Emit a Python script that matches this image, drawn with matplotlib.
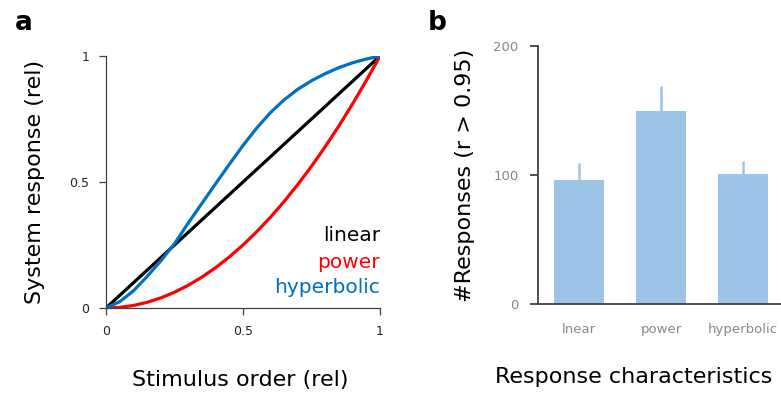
import matplotlib
matplotlib.use("Agg")
import matplotlib.pyplot as plt

# ---- Panel a data ----
stim_x = [0.0, 0.05, 0.10, 0.15, 0.20, 0.25, 0.30, 0.35, 0.40, 0.45, 0.50,
          0.55, 0.60, 0.65, 0.70, 0.75, 0.80, 0.85, 0.90, 0.95, 1.0]
linear_x = [0.0, 1.0]
linear_y = [0.0, 1.0]
power_y = [0.0, 0.0025, 0.01, 0.0225, 0.04, 0.0625, 0.09, 0.1225, 0.16, 0.2025, 0.25,
           0.3025, 0.36, 0.4225, 0.49, 0.5625, 0.64, 0.7225, 0.81, 0.9025, 1.0]
hyper_y = [0.0, 0.025, 0.068, 0.125, 0.187, 0.255, 0.337, 0.415, 0.493, 0.57, 0.645,
           0.714, 0.775, 0.826, 0.868, 0.902, 0.930, 0.954, 0.973, 0.988, 1.0]
series_names = ["linear", "power", "hyperbolic"]
series_colors = ["#000000", "#FF0000", "#0070C0"]
a_ticks = [0, 0.5, 1]
a_ticklabels = ["0", "0.5", "1"]

# ---- Panel b data ----
categories = ["lnear", "power", "hyperbolic"]
counts = [96, 150, 101]
errors = [13, 19, 10]
b_ticks = [0, 100, 200]

W, H = 781, 396
fig = plt.figure(figsize=(W / 100, H / 100), dpi=100)
plt.rcParams['font.family'] = ['DejaVu Sans']

# ---------- Panel a ----------
axA = fig.add_axes([106 / W, 1 - 308 / H, 274 / W, 252 / H])
axA.plot(linear_x, linear_y, color=series_colors[0], lw=2.3, solid_capstyle='round')
axA.plot(stim_x, power_y, color=series_colors[1], lw=2.3, solid_capstyle='round',
         solid_joinstyle='round')
axA.plot(stim_x, hyper_y, color=series_colors[2], lw=2.3, solid_capstyle='round',
         solid_joinstyle='round')
axA.set_xlim(0, 1)
axA.set_ylim(0, 1)
axA.set_xticks(a_ticks)
axA.set_xticklabels(a_ticklabels)
axA.set_yticks(a_ticks)
axA.set_yticklabels(a_ticklabels)
for s in ["top", "right"]:
    axA.spines[s].set_visible(False)
for s in ["left", "bottom"]:
    axA.spines[s].set_color("#404040")
    axA.spines[s].set_linewidth(0.9)
axA.tick_params(direction='out', length=5, width=0.9, colors="#404040",
                labelsize=9, labelcolor="#222222", pad=7)
axA.set_xlabel("Stimulus order (rel)", fontsize=16, labelpad=0)
axA.set_ylabel("System response (rel)", fontsize=16, labelpad=0)
axA.xaxis.set_label_coords(0.49, -0.245)
axA.yaxis.set_label_coords(-0.222, 0.5)
for name, col, yy in zip(series_names, series_colors, [0.264, 0.16, 0.058]):
    axA.text(1.0, yy, name, color=col, fontsize=14.5, ha='right', va='baseline')

# ---------- Panel b ----------
axB = fig.add_axes([538 / W, 1 - 304 / H, 246 / W, 258 / H])
xpos = list(range(len(categories)))
bar_color = "#9DC3E6"
axB.bar(xpos, counts, width=0.61, color=bar_color)
axB.errorbar(xpos, counts, yerr=[[0] * len(errors), errors], fmt='none',
             ecolor=bar_color, elinewidth=1.8, capsize=0)
axB.set_xlim(-0.5, 2.5)
axB.set_ylim(0, 200)
axB.set_yticks(b_ticks)
axB.set_yticklabels([str(t) for t in b_ticks])
axB.set_xticks(xpos)
axB.set_xticklabels(categories)
for s in ["top", "right"]:
    axB.spines[s].set_visible(False)
for s in ["left", "bottom"]:
    axB.spines[s].set_color("#404040")
    axB.spines[s].set_linewidth(1.3)
axB.tick_params(axis='y', direction='out', length=6, width=1.3, colors="#404040",
                labelsize=9.5, labelcolor="#888888", pad=8)
axB.tick_params(axis='x', length=0, labelsize=9.5, labelcolor="#888888", pad=14)
axB.set_xlabel("Response characteristics", fontsize=16)
axB.set_ylabel("#Responses (r > 0.95)", fontsize=16)
axB.xaxis.set_label_coords(0.39, -0.245)
axB.yaxis.set_label_coords(-0.256, 0.5)

# Panel letters
fig.text(15 / W, 1 - 30 / H, "a", fontsize=19, fontweight='bold', ha='left', va='baseline')
fig.text(428 / W, 1 - 30 / H, "b", fontsize=19, fontweight='bold', ha='left', va='baseline')

fig.savefig("out.png", dpi=100)
